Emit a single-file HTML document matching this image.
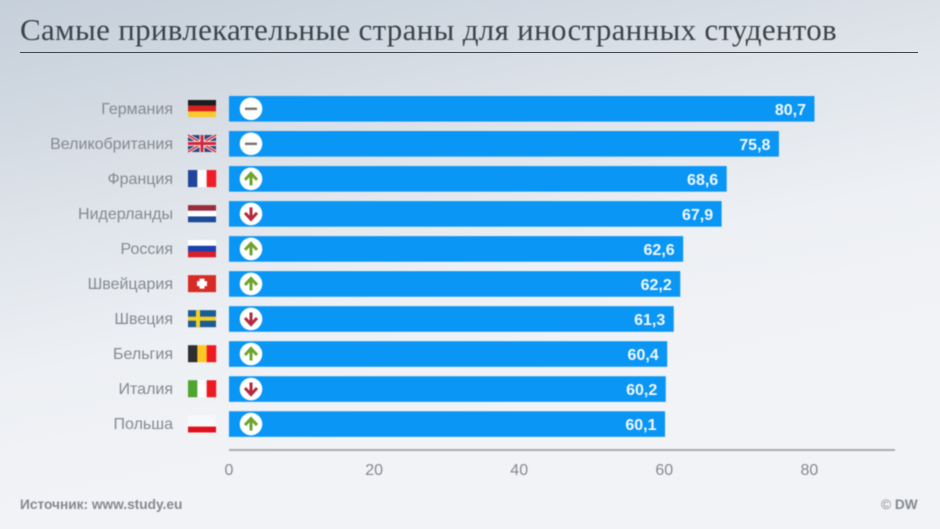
<!DOCTYPE html>
<html lang="ru">
<head>
<meta charset="utf-8">
<title>Самые привлекательные страны для иностранных студентов</title>
<style>
html,body{margin:0;padding:0;width:940px;height:529px;overflow:hidden}
body{font-family:"Liberation Sans","Noto Sans CJK SC",sans-serif}
#stage{position:relative;width:940px;height:529px;overflow:hidden;
background:linear-gradient(168deg,#c6d0da 0%,#cfd7e0 14%,#dfe4ea 32%,#edf0f4 52%,#f2f3f6 72%,#f2f3f6 100%)}
#chart{position:absolute;left:0;top:0;filter:blur(.55px)}
#title{position:absolute;left:20px;top:12px;margin:0;font:400 31px "Liberation Serif","Noto Serif CJK SC",serif;letter-spacing:.3px;color:#3b434b;white-space:nowrap;filter:blur(.45px)}
#rule{position:absolute;left:20px;top:52px;width:898px;height:1.2px;background:#3f4750}
.foot{position:absolute;font-weight:700;font-size:13.7px;color:#85898f;white-space:nowrap;filter:blur(.45px)}
</style>
</head>
<body>
<div id="stage">
<h1 id="title">Самые привлекательные страны для иностранных студентов</h1>
<div id="rule"></div>
<svg id="chart" width="940" height="529" xmlns="http://www.w3.org/2000/svg"></svg>
<div class="foot" style="left:20px;top:497px">Источник: www.study.eu</div>
<div class="foot" style="left:881px;top:497px"><span style="font-weight:400">©</span> DW</div>
</div>
<script>
const countries = ['Германия','Великобритания','Франция','Нидерланды','Россия','Швейцария','Швеция','Бельгия','Италия','Польша'];
const scores = [80.7,75.8,68.6,67.9,62.6,62.2,61.3,60.4,60.2,60.1];
const trends = ['same','same','up','down','up','up','down','up','down','up'];
const flagCodes = ['de','gb','fr','nl','ru','ch','se','be','it','pl'];
const xTicks = [0,20,40,60,80];

const NS = 'http://www.w3.org/2000/svg';
const svg = document.getElementById('chart');
const x0 = 229, pxPerUnit = 7.255;
const rowTop = 96, rowStep = 35.03, barH = 25.6;
const xScale = v => x0 + v * pxPerUnit;
const yScale = i => rowTop + i * rowStep;

function mk(tag, attrs, parent, text) {
  const el = document.createElementNS(NS, tag);
  for (const k in attrs) el.setAttribute(k, attrs[k]);
  if (text !== undefined) el.textContent = text;
  (parent || svg).appendChild(el);
  return el;
}
function drawFlag(code, x, y, g) {
  const w = 28, h = 17;
  const hs = (cols) => cols.forEach((c, i) => mk('rect', {x: x, y: y + i * h / 3, width: w, height: h / 3 + .2, fill: c}, g));
  const vs = (cols) => cols.forEach((c, i) => mk('rect', {x: x + i * w / 3, y: y, width: w / 3 + .2, height: h, fill: c}, g));
  if (code === 'de') hs(['#1d1d1f', '#d8201f', '#fcc92e']);
  if (code === 'nl') hs(['#9b2c3c', '#ffffff', '#1c4a94']);
  if (code === 'ru') hs(['#ffffff', '#1d3fb0', '#d6202c']);
  if (code === 'pl') hs(['#f7f8fa', '#f7f8fa', '#e1101f']);
  if (code === 'fr') vs(['#21459c', '#ffffff', '#f01c26']);
  if (code === 'be') vs(['#2e2e30', '#fbc823', '#ee1a22']);
  if (code === 'it') vs(['#4da62f', '#ffffff', '#ee1a22']);
  if (code === 'ch') {
    mk('rect', {x: x, y: y, width: w, height: h, fill: '#d72b26'}, g);
    mk('rect', {x: x + 11.5, y: y + 3.5, width: 5, height: 10, fill: '#fff'}, g);
    mk('rect', {x: x + 9, y: y + 6, width: 10, height: 5, fill: '#fff'}, g);
  }
  if (code === 'se') {
    mk('rect', {x: x, y: y, width: w, height: h, fill: '#1c5c94'}, g);
    mk('rect', {x: x, y: y + 6.5, width: w, height: 4, fill: '#f5cf22'}, g);
    mk('rect', {x: x + 8, y: y, width: 4, height: h, fill: '#f5cf22'}, g);
  }
  if (code === 'gb') {
    mk('rect', {x: x, y: y, width: w, height: h, fill: '#34447e'}, g);
    mk('path', {d: `M${x} ${y}L${x + w} ${y + h}M${x + w} ${y}L${x} ${y + h}`, stroke: '#f4dfe2', 'stroke-width': 3.4}, g);
    mk('path', {d: `M${x} ${y}L${x + w} ${y + h}M${x + w} ${y}L${x} ${y + h}`, stroke: '#cf2a3c', 'stroke-width': 1.4}, g);
    mk('path', {d: `M${x + w / 2} ${y}V${y + h}M${x} ${y + h / 2}H${x + w}`, stroke: '#f4dfe2', 'stroke-width': 5}, g);
    mk('path', {d: `M${x + w / 2} ${y}V${y + h}M${x} ${y + h / 2}H${x + w}`, stroke: '#cf2a3c', 'stroke-width': 3}, g);
  }
}
function drawTrend(kind, cx, cy, g) {
  mk('circle', {cx: cx, cy: cy, r: 11.3, fill: '#ffffff'}, g);
  if (kind === 'same') {
    mk('path', {d: `M${cx - 6} ${cy}H${cx + 6}`, stroke: '#7a7068', 'stroke-width': 2.4}, g);
  } else if (kind === 'up') {
    mk('path', {d: `M${cx} ${cy + 6.5}V${cy - 5}M${cx - 6} ${cy + 1}L${cx} ${cy - 5.5}L${cx + 6} ${cy + 1}`, stroke: '#6ea32c', 'stroke-width': 3, fill: 'none'}, g);
  } else {
    mk('path', {d: `M${cx} ${cy - 6.5}V${cy + 5}M${cx - 6} ${cy - 1}L${cx} ${cy + 5.5}L${cx + 6} ${cy - 1}`, stroke: '#b5283f', 'stroke-width': 3, fill: 'none'}, g);
  }
}

countries.forEach((name, i) => {
  const y = yScale(i), cy = y + barH / 2;
  const g = mk('g', {});
  
  

  const label = mk('text', {x: 173, y: cy + 5.1, 'text-anchor': 'end', 'font-size': 16, fill: '#858a90'}, g, name);
  
  

  const flag = mk('g', {}, g);
  
  
  drawFlag(flagCodes[i], 188, y + 4, flag);

  const bar = mk('rect', {x: x0, y: y, width: xScale(scores[i]) - x0, height: barH, fill: '#0a96f5'}, g);
  
  

  const trend = mk('g', {}, g);
  
  
  drawTrend(trends[i], 251, cy, trend);

  const val = mk('text', {x: xScale(scores[i]) - 8.5, y: cy + 6, 'text-anchor': 'end', 'font-size': 16, 'font-weight': 700, fill: '#f2f8fd'}, g, String(scores[i]).replace('.', ','));
  
  
});

const axis = mk('rect', {x: x0, y: 449, width: 666, height: 2, fill: '#a9adb2'});



xTicks.forEach(t => {
  const tick = mk('text', {x: xScale(t), y: 475, 'text-anchor': 'middle', 'font-size': 16, fill: '#85898f'}, svg, String(t));
  
  
});
</script>
</body>
</html>
